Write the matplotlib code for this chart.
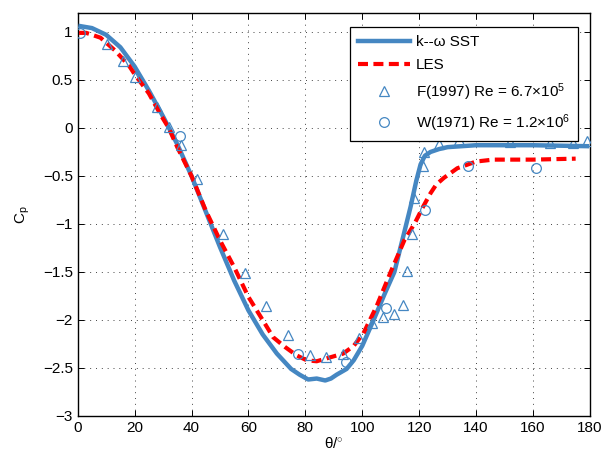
import matplotlib
matplotlib.use("Agg")
import matplotlib.pyplot as plt

plt.rcParams['font.family'] = ['Liberation Sans', 'DejaVu Sans']
plt.rcParams['mathtext.fontset'] = 'custom'
plt.rcParams['mathtext.rm'] = 'Liberation Sans'
plt.rcParams['mathtext.it'] = 'Liberation Sans:italic'
plt.rcParams['mathtext.sf'] = 'Liberation Sans'

# k-omega SST
sst_theta = [1, 5, 10, 15, 20, 25, 30, 35, 40, 45, 50, 55, 60, 65, 70, 75, 78, 81, 84,
             87, 89, 91, 94.5, 97, 100, 104, 108, 111.3, 115, 117, 119, 120.5, 122, 124,
             127, 130, 135, 140, 160, 179]
sst_cp = [1.06, 1.04, 0.97, 0.84, 0.64, 0.39, 0.12, -0.17, -0.50, -0.87, -1.24, -1.59,
          -1.90, -2.15, -2.35, -2.51, -2.57, -2.62, -2.61, -2.63, -2.61, -2.57, -2.51,
          -2.42, -2.27, -2.00, -1.72, -1.50, -1.06, -0.82, -0.55, -0.38, -0.29, -0.25,
          -0.22, -0.20, -0.19, -0.18, -0.18, -0.19]

# LES
les_theta = [0.5, 3, 5, 8, 13, 18, 20, 25, 29.5, 32, 35, 40, 45, 50, 55, 60, 65, 68.7,
             72.8, 77, 80.5, 84, 87.5, 93.3, 97, 100.4, 102.7, 105, 110, 114.8, 118.5,
             121.4, 124, 126, 128.7, 133.4, 140, 146, 160, 175]
les_cp = [0.99, 0.99, 0.97, 0.94, 0.81, 0.65, 0.56, 0.36, 0.12, 0.0, -0.20, -0.50,
          -0.86, -1.17, -1.45, -1.76, -2.00, -2.18, -2.28, -2.37, -2.42, -2.43, -2.40,
          -2.35, -2.27, -2.14, -2.00, -1.86, -1.50, -1.17, -0.99, -0.82, -0.68, -0.59,
          -0.52, -0.42, -0.35, -0.33, -0.33, -0.32]

# F(1997) experiment
f_theta = [10.3, 16.0, 20.1, 27.7, 32.2, 36.3, 41.8, 51.2, 58.8, 66.1, 74.0, 81.6, 87.1,
           93.3, 99.0, 103.6, 107.4, 111.1, 114.2, 115.9, 117.4, 118.3, 121.4, 121.8,
           127.0, 134.1, 151.9, 166.0, 174.0, 179.0]
f_cp = [0.87, 0.70, 0.53, 0.22, 0.01, -0.18, -0.53, -1.10, -1.51, -1.85, -2.16, -2.36,
        -2.39, -2.35, -2.19, -2.03, -1.97, -1.94, -1.84, -1.49, -1.10, -0.73, -0.40,
        -0.25, -0.17, -0.13, -0.15, -0.16, -0.16, -0.14]

# W(1971) experiment
w_theta = [0.8, 35.9, 77.6, 94.3, 108.2, 122.0, 137.0, 161.0]
w_cp = [0.99, -0.08, -2.35, -2.44, -1.88, -0.85, -0.40, -0.42]

xticks = list(range(0, 181, 20))
yticks = [-3, -2.5, -2, -1.5, -1, -0.5, 0, 0.5, 1]

blue = '#4587C2'
red = '#FF0000'

fig = plt.figure(figsize=(6.05, 4.59), dpi=100)
ax = fig.add_axes([0.1284, 0.0937, 0.8466, 0.8786])

ax.plot(sst_theta, sst_cp, color=blue, lw=3.2, label='k--ω SST', zorder=3)
ax.plot(les_theta, les_cp, color=red, lw=3.0, dashes=(2.4, 1.3), label='LES', zorder=4)
ax.plot(f_theta, f_cp, ls='none', marker='^', ms=7.5, mfc='none', mec=blue, mew=0.9,
        label=r'F(1997) Re = 6.7×10$^{5}$', zorder=5)
ax.plot(w_theta, w_cp, ls='none', marker='o', ms=7, mfc='none', mec=blue, mew=0.9,
        label=r'W(1971) Re = 1.2×10$^{6}$', zorder=5)

ax.set_xlim(0, 180)
ax.set_ylim(-3, 1.2)
ax.set_xticks(xticks)
ax.set_yticks(yticks)
ax.set_yticklabels([('%g' % v).replace('-', '\u2212') for v in yticks])
ax.tick_params(direction='in', top=True, right=True, length=4, width=0.7,
               labelsize=11, colors='black')
for s in ax.spines.values():
    s.set_linewidth(1.0)
ax.grid(True, color='#444444', linestyle=(0, (1, 5)), linewidth=0.7)
ax.set_axisbelow(True)

ax.set_xlabel(r'θ/$^{\circ}$', fontsize=11, labelpad=1)
ax.set_ylabel(r'C$_{\mathregular{p}}$', fontsize=11, labelpad=8)

leg = ax.legend(loc='upper right', bbox_to_anchor=(0.976, 0.964), borderaxespad=0,
                fontsize=11, handlelength=3.4, numpoints=1, fancybox=False,
                framealpha=1, edgecolor='black', labelspacing=0.6, handletextpad=0.4,
                borderpad=0.5)
leg.get_frame().set_linewidth(0.9)

fig.savefig('out.png', dpi=100)
